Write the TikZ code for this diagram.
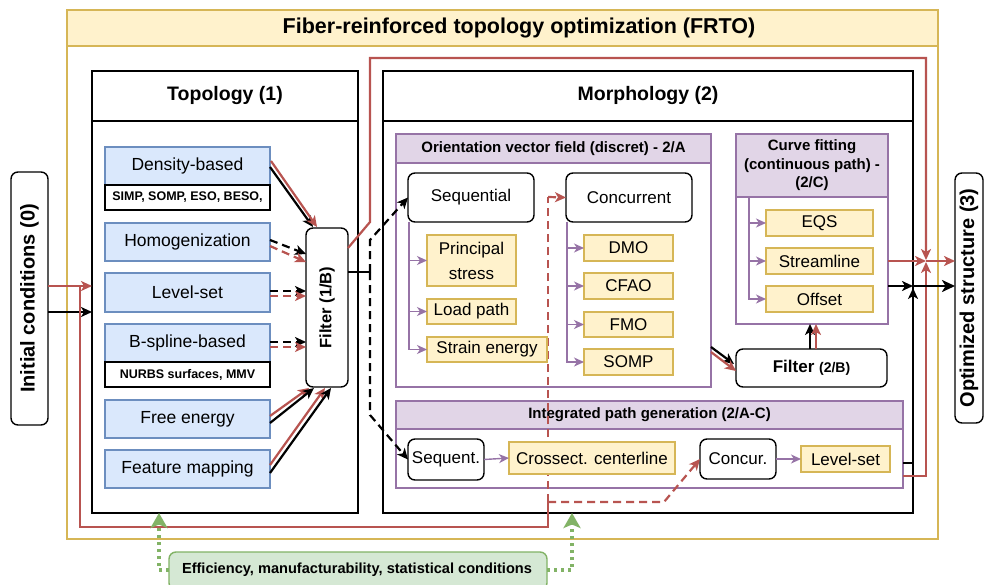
\documentclass[tikz,border=0pt]{standalone}
\usepackage{fontspec}
\setmainfont{Liberation Sans}
\usetikzlibrary{arrows.meta,calc}
\definecolor{rd}{HTML}{B85450}
\definecolor{bluF}{HTML}{DAE8FC}
\definecolor{bluS}{HTML}{6C8EBF}
\definecolor{ylwF}{HTML}{FFF2CC}
\definecolor{ylwS}{HTML}{D6B656}
\definecolor{purF}{HTML}{E1D5E7}
\definecolor{purS}{HTML}{9673A6}
\definecolor{grnF}{HTML}{D5E8D4}
\definecolor{grnS}{HTML}{82B366}
\newcommand{\fsz}[2]{\fontsize{#1}{#2}\selectfont}
\newcommand{\bx}[7]{\node[#2, minimum width={(#5)-(#3)}, minimum height={(#6)-(#4)}] (#1) at ({((#3)+(#5))/2},{((#4)+(#6))/2}) {#7};}
\begin{document}
\begin{tikzpicture}[x=1pt,y=-1pt,
 every node/.style={inner sep=0pt, outer sep=0pt},
 cont/.style={draw=black, fill=white, line width=1.4pt},
 ycont/.style={draw=ylwS, fill=white, line width=1.6pt},
 yhead/.style={draw=ylwS, fill=ylwF, line width=1.6pt},
 chead/.style={draw=black, fill=white, line width=1.4pt, font=\bfseries\fsz{19.5}{23}},
 pcont/.style={draw=purS, fill=white, line width=1.4pt},
 phead/.style={draw=purS, fill=purF, line width=1.4pt, font=\bfseries\fsz{15}{18.5}, align=center},
 blu/.style={draw=bluS, fill=bluF, line width=1.4pt, font=\fsz{17.5}{21}},
 ylw/.style={draw=ylwS, fill=ylwF, line width=1.4pt, font=\fsz{17}{25}, align=center},
 subb/.style={draw=black, fill=white, line width=1.4pt, font=\bfseries\fsz{12.5}{15}},
 rbox/.style={draw=black, fill=white, rounded corners=7pt, line width=1.4pt, font=\fsz{17}{21}},
 gbox/.style={draw=grnS, fill=grnF, rounded corners=7pt, line width=1.4pt},
 arrtip/.style={-{Stealth[length=11pt,width=10pt,inset=3pt]}},
 arr/.style={line width=2.2pt, arrtip},
 darr/.style={arr, dash pattern=on 8pt off 5pt},
 parr/.style={draw=purS, line width=1.4pt, -{Stealth[length=10pt,width=9pt,inset=3pt]}},
 garr/.style={draw=grnS, line width=3.2pt, dash pattern=on 3pt off 4pt, -{Stealth[length=15pt,width=17pt,inset=3.5pt]}},
]
\useasboundingbox (0,0) rectangle (984,585);
\clip (0,0) rectangle (984,585);
\fill[white] (0,0) rectangle (984,585);

% containers
\bx{frto}{ycont}{67}{10}{938}{539}{}
\bx{frtoH}{yhead}{67}{10}{938}{46}{}
\node[font=\bfseries\fsz{21.5}{25}] (frtoT) at (519,28) {Fiber-reinforced topology optimization (FRTO)};
\bx{topo}{cont}{92}{71}{358}{513}{}
\bx{topoH}{chead}{92}{71}{358}{121}{Topology (1)}
\bx{morph}{cont}{383}{71}{913}{513}{}
\bx{morphH}{chead}{383}{71}{913}{121}{Morphology (2)}
\bx{ovf}{pcont}{396}{134}{711}{387}{}
\bx{ovfH}{phead}{396}{134}{711}{163}{Orientation vector field (discret) - 2/A}
\bx{cf}{pcont}{736}{134}{888}{324}{}
\bx{cfH}{phead}{736}{134}{888}{197}{Curve fitting\\(continuous path) -\\(2/C)}
\bx{ipg}{pcont}{396}{401}{903}{488}{}
\bx{ipgH}{phead}{396}{401}{903}{429}{Integrated path generation (2/A-C)}

% red dashed vertical (behind boxes)
\coordinate (rj) at (548,502);
\coordinate (rk) at (548,197);
\draw[rd, line width=2.2pt, dash pattern=on 8pt off 5pt] (rj) -- (rk);

% topology leaves
\bx{dens}{blu}{105}{147}{270}{185}{Density-based}
\bx{densS}{subb}{105}{185}{270}{210}{SIMP, SOMP, ESO, BESO,}
\bx{homo}{blu}{105}{223}{270}{261}{Homogenization}
\bx{lset}{blu}{105}{273}{270}{312}{Level-set}
\bx{bspl}{blu}{105}{324}{270}{362}{B-spline-based}
\bx{bsplS}{subb}{105}{362}{270}{387}{NURBS surfaces, MMV}
\bx{free}{blu}{105}{400}{270}{438}{Free energy}
\bx{feat}{blu}{105}{450}{270}{488}{Feature mapping}
\bx{fA}{rbox}{306}{228}{348}{387}{}
\node[rotate=90, font=\bfseries\fsz{16.5}{20}] (fAt) at (fA) {Filter (1/B)};

% side boxes
\bx{init}{rbox}{11}{172}{48}{425}{}
\node[rotate=90, font=\bfseries\fsz{20}{24}] (initT) at (init) {Initial conditions (0)};
\bx{opt}{rbox}{955}{173}{983}{423}{}
\node[rotate=90, font=\bfseries\fsz{20}{24}] (optT) at (opt) {Optimized structure (3)};

% orientation leaves
\bx{seq}{rbox}{408}{173}{534}{222}{Sequential}
\bx{conc}{rbox}{566}{173}{692}{222}{Concurrent}
\bx{prin}{ylw}{427}{235}{516}{286}{Principal\\stress}
\bx{load}{ylw}{427}{299}{516}{324}{Load path}
\bx{strain}{ylw}{427}{337}{547}{362}{Strain energy}
\bx{dmo}{ylw}{584}{235}{673}{261}{DMO}
\bx{cfao}{ylw}{584}{273}{673}{299}{CFAO}
\bx{fmo}{ylw}{584}{312}{673}{337}{FMO}
\bx{somp}{ylw}{584}{349}{673}{375}{SOMP}

% curve fitting leaves
\bx{eqs}{ylw}{766}{210}{873}{236}{EQS}
\bx{stream}{ylw}{766}{248}{873}{274}{Streamline}
\bx{offs}{ylw}{766}{286}{873}{312}{Offset}
\bx{fB}{rbox}{736}{349}{887}{387}{\bfseries Filter {\fsz{14}{17}(2/B)}}

% integrated leaves
\bx{sqt}{rbox}{408}{439}{484}{480}{Sequent.}
\bx{cross}{ylw}{509}{442}{675}{474}{Crossect. centerline}
\bx{ccr}{rbox}{700}{439}{776}{479}{Concur.}
\bx{lvl}{ylw}{801}{446}{890}{472}{Level-set}

% green box
\bx{eff}{gbox}{169}{552}{547}{590}{}
\node[font=\bfseries\fsz{14.6}{18}] (effT) at (357,570) {Efficiency, manufacturability, statistical conditions};

% purple trees
\foreach \t in {prin,load,strain} \draw[parr] ($(seq.south west)+(1,0)$) |- (\t.west);
\foreach \t in {dmo,cfao,fmo,somp} \draw[parr] ($(conc.south west)+(1,0)$) |- (\t.west);
\foreach \t in {eqs,stream,offs} \draw[parr] (cf.west|-cfH.south) ++(13,0) |- (\t.west);
\draw[parr] (sqt.east) -- (cross.west);
\draw[parr] (ccr.east) -- (lvl.west);

% initial conditions
\coordinate (iR) at (0,286);
\coordinate (iK) at (0,312);
\draw[arr, rd] (init.east|-iR) -- (topo.west|-iR);
\draw[arr, black] (init.east|-iK) -- (topo.west|-iK);
\coordinate (loopA) at (80,286);
\draw[rd, line width=2.2pt] (loopA) -- (80,527) -- (548,527) -- (rj);
\draw[darr, rd] (rk) -- (conc.west);
\draw[darr, rd] (rj) -- (664,502) -- (ccr.west);

% topology to filter 1/B
\draw[arr, black] (270,167) -- (313,227);
\draw[arr, rd] (271,161) -- (317,227);
\draw[darr, black] (homo.east|-0,240) -- (fA.west|-0,254);
\draw[darr, rd] (homo.east|-0,246) -- (fA.west|-0,262);
\draw[darr, black] (lset.east|-0,291) -- (fA.west|-0,291);
\draw[darr, rd] (lset.east|-0,296) -- (fA.west|-0,296);
\draw[darr, black] (bspl.east|-0,342) -- (fA.west|-0,342);
\draw[darr, rd] (bspl.east|-0,347) -- (fA.west|-0,347);
\draw[arr, rd] (270,416) -- (309,388);
\draw[arr, black] (270,423) -- (314,388);
\draw[arr, rd] (270,465) -- (325,388);
\draw[arr, black] (270,473) -- (331,388);

% filter 1/B outputs
\coordinate (bj) at (370,272);
\draw[black, line width=2.2pt] (fA.east|-bj) -- (bj);
\draw[darr, black] (bj) -- (370,240) -- (seq.west);
\draw[darr, black] (bj) -- (370,415) -- (sqt.west);
\draw[arr, rd] (fA.east|-0,248) -- (370,222) -- (370,58) -- (926,58) -- (926,260);

% orientation -> filter 2/B -> curve fitting
\draw[arr, black] (711,347) -- (734,364);
\draw[arr, rd] (711,352) -- (736,371);
\draw[arr, black] (fB.north-|810,0) -- (cf.south-|810,0);
\draw[arr, rd] (fB.north-|816,0) -- (cf.south-|816,0);

% to optimized structure
\coordinate (rX) at (926,261);
\coordinate (kX) at (913,286);
\draw[arr, rd] (ipg.east|-0,476) -- (926,476) -- (926,262);
\draw[arr, rd] (cf.east|-rX) -- (rX);
\draw[arr, rd] (rX) -- (opt.west|-rX);
\draw[arr, black] (cf.east|-kX) -- (kX);
\draw[arr, black] (ipg.east|-0,463) -- (913,463) -- (913,288);
\draw[black, line width=2.8pt, -{Stealth[length=13pt,width=12pt,inset=3.5pt]}] (kX) -- (opt.west|-kX);

% green conditions
\draw[garr] (eff.west|-effT) -- (159,570) -- (topo.south-|159,0);
\draw[garr] (eff.east|-effT) -- (572,570) -- (morph.south-|572,0);
\end{tikzpicture}
\end{document}
